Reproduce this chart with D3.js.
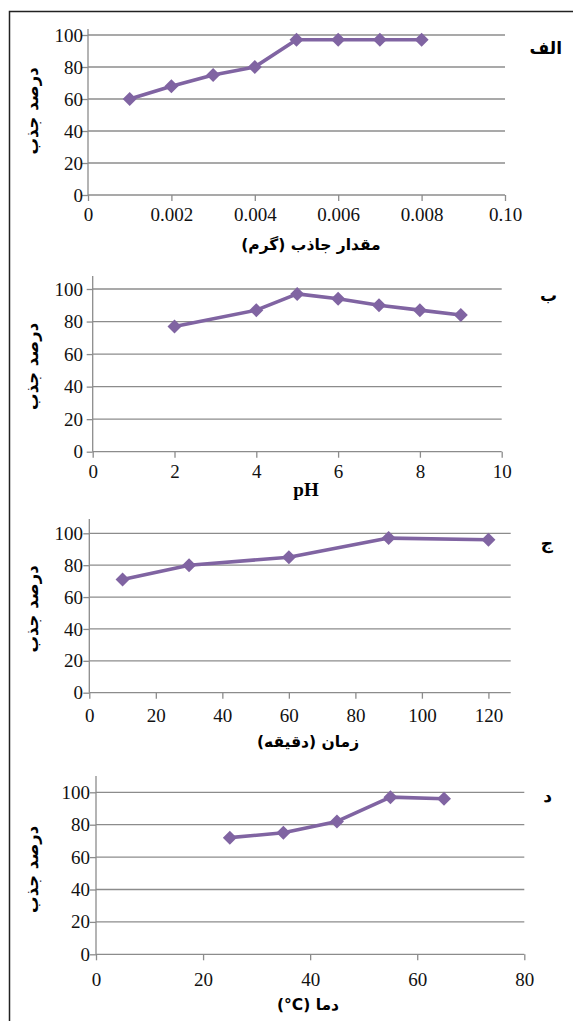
<!DOCTYPE html>
<html>
<head>
<meta charset="utf-8">
<script src="https://cdn.jsdelivr.net/npm/d3@7"></script>
<style>
  body { margin: 0; background: #fff; }
  svg { display: block; }
</style>
</head>
<body>
<script>
// values
const dosageX = [0.001, 0.002, 0.003, 0.004, 0.005, 0.006, 0.007, 0.008];
const dosageY = [60, 68, 75, 80, 97, 97, 97, 97];
const dosageTicks = [0, 0.002, 0.004, 0.006, 0.008, 0.010];
const dosageTickLabels = ['0', '0.002', '0.004', '0.006', '0.008', '0.10'];

const phX = [2, 4, 5, 6, 7, 8, 9];
const phY = [77, 87, 97, 94, 90, 87, 84];
const phTicks = [0, 2, 4, 6, 8, 10];

const timeX = [10, 30, 60, 90, 120];
const timeY = [71, 80, 85, 97, 96];
const timeTicks = [0, 20, 40, 60, 80, 100, 120];

const tempX = [25, 35, 45, 55, 65];
const tempY = [72, 75, 82, 97, 96];
const tempTicks = [0, 20, 40, 60, 80];

const yTicks = [0, 20, 40, 60, 80, 100];
const yTitle = 'درصد جذب';

const width = 573, height = 1021;
const purple = '#8064a2', grid = '#8c8c8c';
const serif = '"Liberation Serif", "Times New Roman", serif';
const arabic = '"DejaVu Sans", sans-serif';

const svg = d3.select('body').append('svg')
    .attr('width', width)
    .attr('height', height);

// outer frame (top and left edges only are visible)
svg.append('path')
    .attr('d', 'M9.5,' + height + 'V11.5H' + width)
    .attr('fill', 'none')
    .attr('stroke', '#222')
    .attr('stroke-width', 1.5);

const panels = [
    {xs: dosageX, ys: dosageY, ticks: dosageTicks, tickLabels: dosageTickLabels, xMax: 0.010,
     left: 88, right: 505, top: 35, bottom: 195, axisTop: 29, labelDy: 25, ylabX: 83,
     title: 'مقدار جاذب (گرم)', titleY: 250, titleX: 311, titleFont: arabic,
     tag: 'الف', tagX: 562, tagY: 54},
    {xs: phX, ys: phY, ticks: phTicks, xMax: 10,
     left: 92.7, right: 501.7, top: 289, bottom: 451.7, axisTop: 276, labelDy: 25, ylabX: 83,
     title: 'pH', titleY: 496, titleX: 306, titleFont: serif,
     tag: 'ب', tagX: 557, tagY: 301},
    {xs: timeX, ys: timeY, ticks: timeTicks, xMax: 126.7,
     left: 89.3, right: 510.7, top: 533.3, bottom: 692.7, axisTop: 519, labelDy: 28, ylabX: 83,
     title: 'زمان (دقیقه)', titleY: 747, titleX: 308, titleFont: arabic,
     tag: 'ج', tagX: 553, tagY: 549},
    {xs: tempX, ys: tempY, ticks: tempTicks, xMax: 80,
     left: 96, right: 524.3, top: 792.3, bottom: 954.3, axisTop: 776, labelDy: 30, ylabX: 90,
     title: 'دما (\u200E°C)', titleY: 1010, titleX: 308, titleFont: arabic,
     tag: 'د', tagX: 552, tagY: 802}
];

const diamond = d3.symbol().type(d3.symbolSquare).size(98);

panels.forEach(p => {
    const x = d3.scaleLinear().domain([0, p.xMax]).range([p.left, p.right]);
    const y = d3.scaleLinear().domain([0, 100]).range([p.bottom, p.top]);
    const g = svg.append('g');

    // horizontal gridlines
    g.selectAll('.grid')
        .data(yTicks.slice(1))
        .enter().append('line')
        .attr('x1', p.left).attr('x2', p.right)
        .attr('y1', d => y(d)).attr('y2', d => y(d))
        .attr('stroke', grid).attr('stroke-width', 1.3);

    // x axis
    const xAxis = d3.axisBottom(x)
        .tickValues(p.ticks)
        .tickSize(6)
        .tickPadding(p.labelDy - 18)
        .tickFormat((d, i) => p.tickLabels ? p.tickLabels[i] : d);
    const gx = g.append('g')
        .attr('transform', 'translate(0,' + y(0) + ')')
        .attr('font-family', serif)
        .attr('font-size', 19)
        .call(xAxis);
    gx.attr('font-family', serif).attr('font-size', 19);
    gx.select('.domain').attr('stroke', grid).attr('stroke-width', 1.3).attr('d', 'M' + p.left + ',0H' + p.right);
    gx.selectAll('.tick line').attr('stroke', grid).attr('stroke-width', 1.3);
    gx.selectAll('.tick text').attr('fill', '#111');

    // y axis
    const yAxis = d3.axisLeft(y)
        .tickValues(yTicks)
        .tickSize(6)
        .tickPadding(p.left - p.ylabX - 6);
    const gy = g.append('g')
        .attr('transform', 'translate(' + p.left + ',0)')
        .call(yAxis);
    gy.attr('font-family', serif).attr('font-size', 19);
    gy.select('.domain').attr('stroke', grid).attr('stroke-width', 1.3)
        .attr('d', 'M0,' + p.axisTop + 'V' + p.bottom);
    gy.selectAll('.tick line').attr('stroke', grid).attr('stroke-width', 1.3);
    gy.selectAll('.tick text').attr('fill', '#111');

    // series line and diamond markers
    const pts = p.xs.map((v, i) => [v, p.ys[i]]);
    g.append('path')
        .datum(pts)
        .attr('fill', 'none')
        .attr('stroke', purple)
        .attr('stroke-width', 3.6)
        .attr('stroke-linejoin', 'round')
        .attr('d', d3.line().x(d => x(d[0])).y(d => y(d[1])));
    g.selectAll('.pt')
        .data(pts)
        .enter().append('path')
        .attr('d', diamond)
        .attr('fill', purple)
        .attr('transform', d => 'translate(' + x(d[0]) + ',' + y(d[1]) + ') rotate(45)');

    // axis titles
    g.append('text')
        .attr('x', p.titleX).attr('y', p.titleY)
        .attr('text-anchor', 'middle')
        .attr('direction', 'rtl')
        .style('font-family', p.titleFont)
        .style('font-weight', 'bold')
        .style('font-size', p.titleFont === serif ? '19px' : '15.5px')
        .text(p.title);
    g.append('text')
        .attr('transform', 'translate(' + 38 + ',' + ((p.top + p.bottom) / 2 - 4) + ') rotate(-90)')
        .attr('text-anchor', 'middle')
        .attr('direction', 'rtl')
        .style('font-family', arabic)
        .style('font-weight', 'bold')
        .style('font-size', '16.5px')
        .text(yTitle);

    // panel tag
    g.append('text')
        .attr('x', p.tagX).attr('y', p.tagY)
        .attr('text-anchor', 'end')
        .style('font-family', arabic)
        .style('font-weight', 'bold')
        .style('font-size', '17px')
        .text(p.tag);
});
</script>
</body>
</html>
